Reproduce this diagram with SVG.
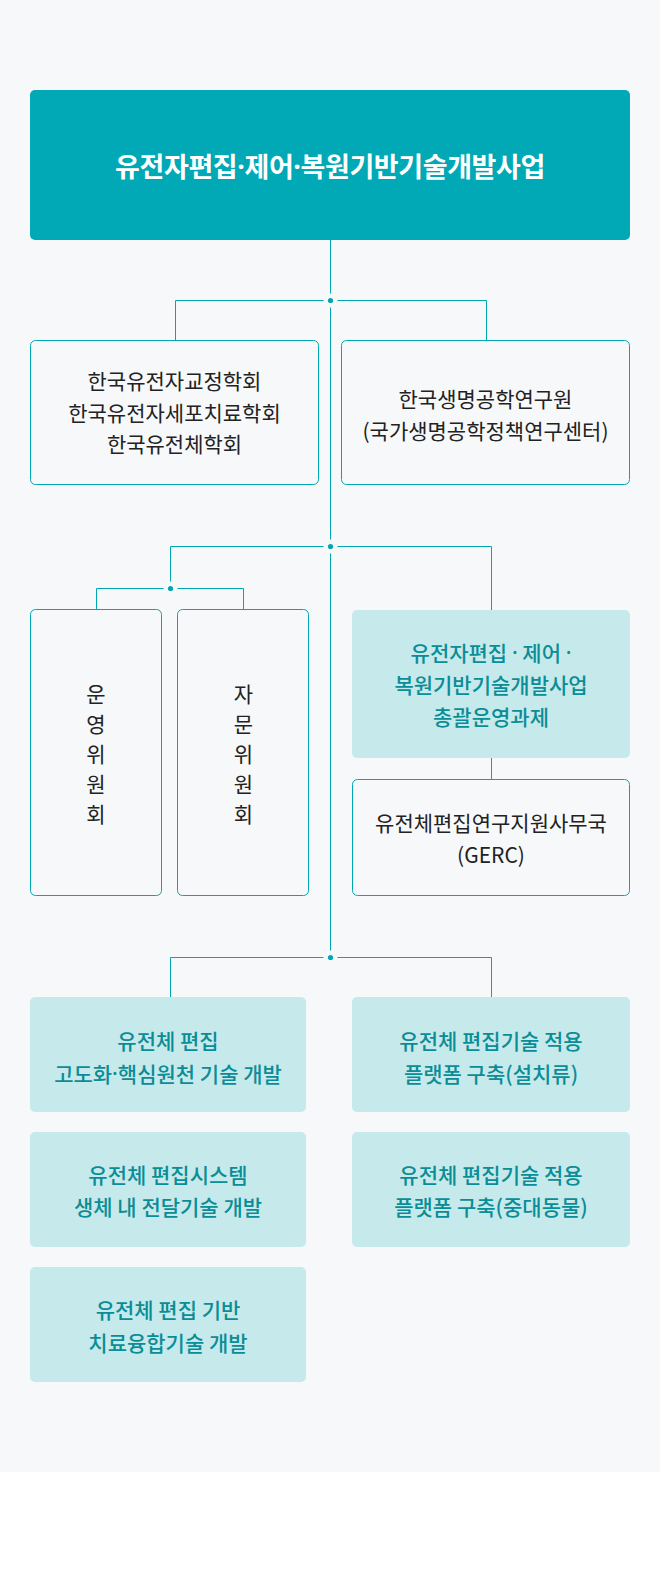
<svg xmlns="http://www.w3.org/2000/svg" width="660" height="1592" viewBox="0 0 660 1592">
<style>
.t{font-family:"Noto Sans CJK KR","Noto Sans",sans-serif;text-anchor:middle;dominant-baseline:central}
.dk{fill:#222;font-size:21px}
.tl{fill:#0a8d96;font-size:21px;font-weight:500}
.d{font-family:"Noto Sans",sans-serif}
.ob{fill:#f7f8fa;stroke:#00a8b5;stroke-width:1}
.fb{fill:#c6e9eb}
.ln{stroke:#00a8b5;stroke-width:1;fill:none}
</style>
<rect x="0" y="0" width="660" height="1472" fill="#f7f8fa"/>
<g id="connectors">
<path class="ln" d="M330.5 240V957.5 M175.5 300.5H486.5 M175.5 300.5V340 M486.5 300.5V340 M170.5 546.5H491.5 M170.5 546.5V588.5 M491.5 546.5V610 M96.5 588.5H243.5 M96.5 588.5V609 M243.5 588.5V609 M491.5 758V779 M170.5 957.5H491.5 M170.5 957.5V997 M491.5 957.5V997"/>
<g fill="#f7f8fa"><circle cx="330.5" cy="300.5" r="7"/><circle cx="330.5" cy="546.5" r="7"/><circle cx="170.5" cy="588.5" r="7"/><circle cx="330.5" cy="957.5" r="7"/></g>
<g fill="#00a8b5"><circle cx="330.5" cy="300.5" r="2.6"/><circle cx="330.5" cy="546.5" r="2.6"/><circle cx="170.5" cy="588.5" r="2.6"/><circle cx="330.5" cy="957.5" r="2.6"/></g>
</g>
<g id="top">
<rect x="30" y="90" width="600" height="150" rx="5" fill="#00a9b5"/>
<text class="t" x="330" y="165" fill="#fff" font-size="27" font-weight="700" letter-spacing="-0.4">유전자편집<tspan class="d">·</tspan>제어<tspan class="d">·</tspan>복원기반기술개발사업</text>
</g>
<g id="societies">
<rect class="ob" x="30.5" y="340.5" width="288" height="144" rx="5"/>
<text class="t dk" x="174.5" y="380">한국유전자교정학회</text>
<text class="t dk" x="174.5" y="411.5">한국유전자세포치료학회</text>
<text class="t dk" x="174.5" y="443">한국유전체학회</text>
</g>
<g id="kribb">
<rect class="ob" x="341.5" y="340.5" width="288" height="144" rx="5"/>
<text class="t dk" x="485.5" y="398">한국생명공학연구원</text>
<text class="t dk" x="485.5" y="429.5">(국가생명공학정책연구센터)</text>
</g>
<g id="steering">
<rect class="ob" x="30.5" y="609.5" width="131" height="286" rx="5"/>
<text class="t dk" x="96" y="693">운</text>
<text class="t dk" x="96" y="723">영</text>
<text class="t dk" x="96" y="753">위</text>
<text class="t dk" x="96" y="783">원</text>
<text class="t dk" x="96" y="812.5">회</text>
</g>
<g id="advisory">
<rect class="ob" x="177.5" y="609.5" width="131" height="286" rx="5"/>
<text class="t dk" x="243.5" y="693">자</text>
<text class="t dk" x="243.5" y="723">문</text>
<text class="t dk" x="243.5" y="753">위</text>
<text class="t dk" x="243.5" y="783">원</text>
<text class="t dk" x="243.5" y="812.5">회</text>
</g>
<g id="general">
<rect class="fb" x="352" y="610" width="278" height="148" rx="5"/>
<text class="t tl" x="491" y="652">유전자편집 <tspan class="d">·</tspan> 제어 <tspan class="d">·</tspan></text>
<text class="t tl" x="491" y="684">복원기반기술개발사업</text>
<text class="t tl" x="491" y="716">총괄운영과제</text>
</g>
<g id="gerc">
<rect class="ob" x="352.5" y="779.5" width="277" height="116" rx="5"/>
<text class="t dk" x="491" y="821.5">유전체편집연구지원사무국</text>
<text class="t dk" x="491" y="853.5">(GERC)</text>
</g>
<g id="p1">
<rect class="fb" x="30" y="997" width="276" height="115" rx="5"/>
<text class="t tl" x="168" y="1040">유전체 편집</text>
<text class="t tl" x="168" y="1073">고도화<tspan class="d">·</tspan>핵심원천 기술 개발</text>
</g>
<g id="p2">
<rect class="fb" x="352" y="997" width="278" height="115" rx="5"/>
<text class="t tl" x="491" y="1040">유전체 편집기술 적용</text>
<text class="t tl" x="491" y="1073">플랫폼 구축(설치류)</text>
</g>
<g id="p3">
<rect class="fb" x="30" y="1132" width="276" height="115" rx="5"/>
<text class="t tl" x="168" y="1173.5">유전체 편집시스템</text>
<text class="t tl" x="168" y="1206">생체 내 전달기술 개발</text>
</g>
<g id="p4">
<rect class="fb" x="352" y="1132" width="278" height="115" rx="5"/>
<text class="t tl" x="491" y="1173.5">유전체 편집기술 적용</text>
<text class="t tl" x="491" y="1206">플랫폼 구축(중대동물)</text>
</g>
<g id="p5">
<rect class="fb" x="30" y="1267" width="276" height="115" rx="5"/>
<text class="t tl" x="168" y="1308.5">유전체 편집 기반</text>
<text class="t tl" x="168" y="1341.5">치료융합기술 개발</text>
</g>
</svg>
